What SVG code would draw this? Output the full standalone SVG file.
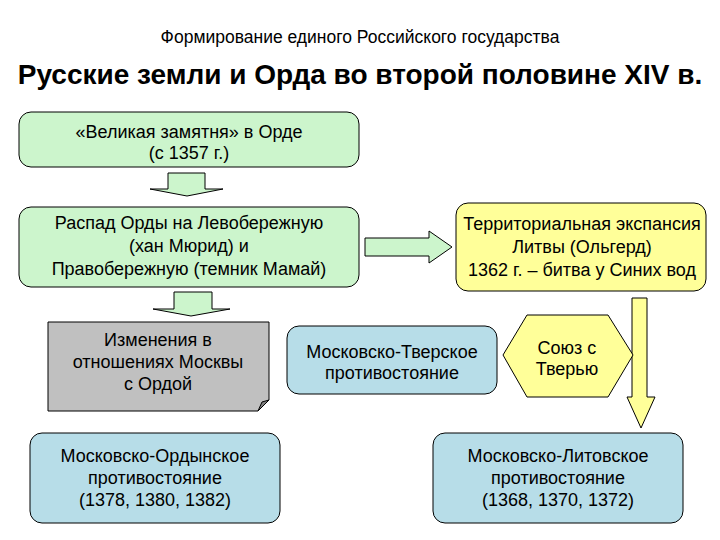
<svg xmlns="http://www.w3.org/2000/svg" width="720" height="540" viewBox="0 0 720 540">
<style>
text{font-family:"Liberation Sans",Arial,sans-serif;fill:#000}
.t{font-size:18px;text-anchor:middle}
.box{stroke:#000;stroke-width:1}
.g{fill:#ccf5cc}
.y{fill:#ffff99}
.b{fill:#b7dde8}
.gr{fill:#c0c0c0}
</style>
<rect width="720" height="540" fill="#fff"/>
<text x="360" y="43" style="font-size:17.5px" text-anchor="middle">Формирование единого Российского государства</text>
<text x="360" y="84" style="font-size:28px;font-weight:bold" text-anchor="middle">Русские земли и Орда во второй половине XIV в.</text>

<g id="connectors" class="box">
<polygon class="g" points="168,173 205,173 205,189 223,189 187,196 150,189 168,189"/>
<polygon class="g" points="365,238 429,238 429,231 452,247 429,263 429,256 365,256"/>
<polygon class="g" points="174,292 212,292 212,309 230,309 191,316 153,309 174,309"/>
<polygon class="y" points="632,298 647,298 647,397 655,397 641,428 627,397 632,397"/>
</g>

<g id="n1"><rect class="box g" x="19" y="112" width="340" height="55" rx="12"/>
<text class="t" x="189" y="138">«Великая замятня» в Орде</text>
<text class="t" x="189" y="159">(с 1357 г.)</text></g>

<g id="n2"><rect class="box g" x="19" y="207" width="340" height="80" rx="12"/>
<text class="t" x="189" y="229">Распад Орды на Левобережную</text>
<text class="t" x="189" y="252">(хан Мюрид) и</text>
<text class="t" x="189" y="275">Правобережную (темник Мамай)</text></g>

<g id="n3"><rect class="box y" x="456" y="203" width="250" height="88" rx="12"/>
<text class="t" x="582" y="230">Территориальная экспансия</text>
<text class="t" x="582" y="253">Литвы (Ольгерд)</text>
<text class="t" x="582" y="276">1362 г. – битва у Синих вод</text></g>

<g id="n4"><path class="box gr" d="M48,322 H269 V400 L258,411 H48 Z"/>
<path d="M258,411 L262,402 L269,400 Z" fill="#808080" stroke="#000" stroke-width="1"/>
<text class="t" x="158" y="346">Изменения в</text>
<text class="t" x="158" y="368">отношениях Москвы</text>
<text class="t" x="158" y="390">с Ордой</text></g>

<g id="n5"><rect class="box b" x="287" y="326" width="210" height="68" rx="12"/>
<text class="t" x="392" y="358">Московско-Тверское</text>
<text class="t" x="392" y="379">противостояние</text></g>

<g id="n6"><polygon class="box y" points="503,355 527,315 608,315 633,355 608,397 527,397"/>
<text class="t" x="567" y="354">Союз с</text>
<text class="t" x="567" y="375">Тверью</text></g>

<g id="n7"><rect class="box b" x="30" y="433" width="250" height="90" rx="12"/>
<text class="t" x="155" y="462">Московско-Ордынское</text>
<text class="t" x="155" y="484">противостояние</text>
<text class="t" x="155" y="506">(1378, 1380, 1382)</text></g>

<g id="n8"><rect class="box b" x="433" y="433" width="250" height="90" rx="12"/>
<text class="t" x="558" y="462">Московско-Литовское</text>
<text class="t" x="558" y="484">противостояние</text>
<text class="t" x="558" y="506">(1368, 1370, 1372)</text></g>
</svg>
